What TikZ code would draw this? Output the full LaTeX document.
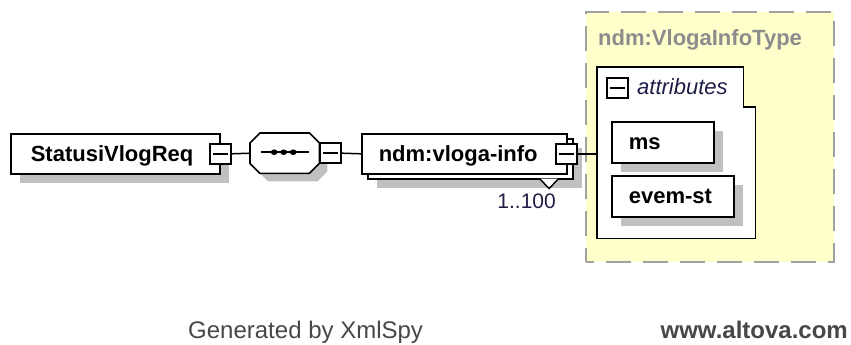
\documentclass[tikz,border=0pt]{standalone}
\usepackage{fontspec}
\setmainfont{Liberation Sans}
\usetikzlibrary{calc,shadows}
\definecolor{shadegray}{HTML}{C0C0C0}
\definecolor{typefill}{HTML}{FFFFCC}
\definecolor{typeline}{HTML}{A0A0A0}
\definecolor{typetext}{HTML}{8C8C8C}
\definecolor{occtext}{HTML}{1E1E46}
\definecolor{foottext}{HTML}{474747}
\newcommand\fsz[1]{\fontsize{#1}{#1}\selectfont}
\begin{document}
\begin{tikzpicture}[x=1pt,y=-1pt,
  box/.style={draw=black, line width=1.6pt, fill=white, anchor=north west, inner ysep=0pt,
    minimum height=40pt, align=left, font=\fsz{22}\bfseries, text height=19pt, text depth=4pt},
  shadowed/.style={drop shadow={shadow xshift=9pt, shadow yshift=-9pt, fill=shadegray, opacity=1}},
  minus/.style={draw=black, line width=1.6pt, fill=white, minimum width=21pt, minimum height=20pt,
    inner sep=0pt, path picture={\draw[line width=1.6pt] ([xshift=3pt]path picture bounding box.west)
      -- ([xshift=-3pt]path picture bounding box.east);}},
  conn/.style={draw=black, line width=1.5pt},
  plain/.style={inner sep=0pt},
]
\useasboundingbox (0,0) rectangle (851,345);

% type box
\node[draw=typeline, fill=typefill, line width=2pt, dash pattern=on 25pt off 12pt, dash phase=17pt,
  minimum width=248pt, minimum height=250pt, anchor=north west, inner sep=0pt] (vtype) at (585,11) {};
\node[plain, anchor=base west, font=\fsz{22}\bfseries, text=typetext] (vtypename) at (598,46) {ndm:VlogaInfoType};

% root element
\node[box, shadowed, inner xsep=20pt, text width=169pt] (req) at (10,133) {StatusiVlogReq};
\node[minus] (reqm) at (req.east) {};

% sequence compositor
\node[plain, minimum width=69pt, minimum height=40pt, anchor=north west] (seq) at (250,133) {};
\fill[shadegray] ($(seq.north west)+(18,8)$) -- ($(seq.north east)+(-2,8)$) -- ($(seq.north east)+(8,18)$)
  -- ($(seq.south east)+(8,-2)$) -- ($(seq.south east)+(-2,8)$) -- ($(seq.south west)+(18,8)$)
  -- ($(seq.south west)+(8,-2)$) -- ($(seq.north west)+(8,18)$) -- cycle;
\filldraw[fill=white, draw=black, line width=1.6pt] ($(seq.north west)+(10,0)$) -- ($(seq.north east)+(-10,0)$)
  -- ($(seq.north east)+(0,10)$) -- ($(seq.south east)+(0,-10)$) -- ($(seq.south east)+(-10,0)$)
  -- ($(seq.south west)+(10,0)$) -- ($(seq.south west)+(0,-10)$) -- ($(seq.north west)+(0,10)$) -- cycle;
\draw[line width=1.6pt] ($(seq.west)+(11,-1)$) -- ($(seq.east)+(-10,-1)$);
\foreach \dx in {-10.5,-1,8.5}{
  \fill ($(seq.center)+(\dx,-1)$) ellipse [x radius=3.4pt, y radius=2.8pt];
}
\node[minus, anchor=west] (seqm) at (seq.east) {};

% repeated element
\node[box, shadowed, minimum width=205pt, inner sep=0pt] (vlogaback) at (367,138) {};
\filldraw[fill=white, draw=black, line width=1.4pt] ($(vlogaback.south east)+(-34,-1)$)
  -- ($(vlogaback.south east)+(-24.5,9)$) -- ($(vlogaback.south east)+(-15,-1)$);
\node[box, inner xsep=17pt, text width=171pt] (vloga) at (361,133) {ndm:vloga-info};
\node[minus] (vlogam) at ($(vloga.east)+(-1,0)$) {};
\node[plain, anchor=base east, font=\fsz{21}, text=occtext] (occ) at (556,208) {1..100};

% attributes group
\node[plain, minimum width=158pt, minimum height=171pt, anchor=north west] (attrs) at (597,67) {};
\filldraw[fill=white, draw=black, line width=1.6pt] (attrs.north west) -- ($(attrs.north east)+(-12,0)$)
  -- ($(attrs.north east)+(-12,40)$) -- ($(attrs.north east)+(0,40)$) -- (attrs.south east)
  -- (attrs.south west) -- cycle;
\node[minus, anchor=north west] (attrm) at (606,77) {};
\node[plain, anchor=base west, font=\fsz{22}\itshape, text=occtext] (attrlbl) at (637,94) {attributes};
\node[box, shadowed, inner xsep=17pt, text width=68pt, minimum height=41pt] (ms) at (611,121) {ms};
\node[box, shadowed, inner xsep=17pt, text width=88pt, minimum height=41pt] (evem) at (611,175) {evem-st};

% connectors
\draw[conn] (reqm.east) -- (seq.west);
\draw[conn] (seqm.east) -- (vloga.west);
\draw[conn] (vlogam.east) -- (vlogam.east -| attrs.west);

% footer
\node[plain, anchor=base west, font=\fsz{24}, text=foottext] (gen) at (188,338) {Generated by XmlSpy};
\node[plain, anchor=base east, font=\fsz{24}\bfseries, text=foottext] (web) at (848,338) {www.altova.com};
\end{tikzpicture}
\end{document}
